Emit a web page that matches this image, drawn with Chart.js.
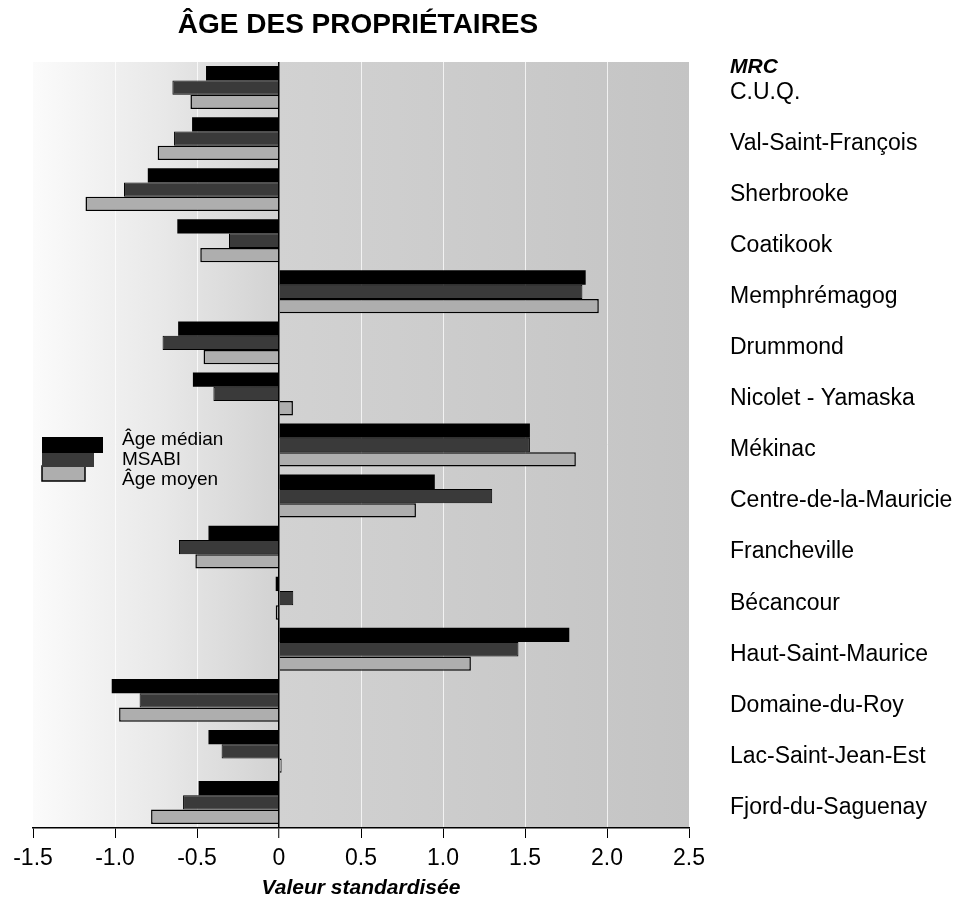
<!DOCTYPE html>
<html>
<head>
<meta charset="utf-8">
<script src="https://cdn.jsdelivr.net/npm/chart.js@4/dist/chart.umd.min.js"></script>
<style>
  html, body { margin: 0; padding: 0; background: #fff; }
  #wrap { width: 970px; height: 905px; }
</style>
</head>
<body>
<div id="wrap"><canvas id="ageChart" width="970" height="905"></canvas></div>
<script>
const mrcLabels = [
    "C.U.Q.", "Val-Saint-François", "Sherbrooke", "Coatikook", "Memphrémagog",
    "Drummond", "Nicolet - Yamaska", "Mékinac", "Centre-de-la-Mauricie", "Francheville",
    "Bécancour", "Haut-Saint-Maurice", "Domaine-du-Roy", "Lac-Saint-Jean-Est", "Fjord-du-Saguenay"
];
const ageMedian = [-0.445, -0.53, -0.80, -0.62, 1.87, -0.615, -0.525, 1.53, 0.95, -0.43, -0.02, 1.77, -1.02, -0.43, -0.49];
const msabi = [-0.65, -0.64, -0.945, -0.305, 1.85, -0.71, -0.40, 1.53, 1.30, -0.61, 0.087, 1.46, -0.85, -0.35, -0.585];
const ageMoyen = [-0.54, -0.74, -1.18, -0.48, 1.95, -0.46, 0.085, 1.81, 0.835, -0.51, -0.02, 1.17, -0.975, 0.016, -0.78];
const xTicks = ["-1.5", "-1.0", "-0.5", "0", "0.5", "1.0", "1.5", "2.0", "2.5"];

const FONT = "'Liberation Sans', Arial, Helvetica, sans-serif";
const colors = { median: "#000000", msabi: "#3a3a3a", moyen: "#aeaeae" };

// shaded plot background, white on the left fading to grey
const backdrop = {
    id: "backdrop",
    beforeDraw(chart) {
        const { ctx, chartArea: a } = chart;
        const g = ctx.createLinearGradient(a.left, 0, a.right, 0);
        g.addColorStop(0, "#fbfbfb");
        g.addColorStop(0.2, "#e8e8e8");
        g.addColorStop(0.375, "#d2d2d2");
        g.addColorStop(1, "#c4c4c4");
        ctx.save();
        ctx.fillStyle = g;
        ctx.fillRect(a.left, a.top, a.right - a.left, a.bottom - a.top);
        ctx.restore();
    }
};

// title, "MRC" header and the stepped legend
const extras = {
    id: "extras",
    afterDraw(chart) {
        const { ctx } = chart;
        ctx.save();
        ctx.fillStyle = "#000";
        ctx.textBaseline = "middle";
        ctx.textAlign = "center";
        ctx.font = "bold 28px " + FONT;
        ctx.fillText("ÂGE DES PROPRIÉTAIRES", 358, 25);

        ctx.textAlign = "left";
        ctx.font = "italic bold 21px " + FONT;
        ctx.fillText("MRC", 730, 67);

        // legend boxes
        ctx.strokeStyle = "#000";
        ctx.lineWidth = 1.5;
        ctx.fillStyle = colors.moyen;
        ctx.fillRect(42, 466, 43, 15);
        ctx.strokeRect(42, 466, 43, 15);
        ctx.fillStyle = colors.msabi;
        ctx.fillRect(42, 452, 52, 15);
        ctx.fillStyle = colors.median;
        ctx.fillRect(42, 437, 61, 16);

        ctx.fillStyle = "#000";
        ctx.font = "19px " + FONT;
        ctx.fillText("Âge médian", 122, 440);
        ctx.fillText("MSABI", 122, 460);
        ctx.fillText("Âge moyen", 122, 480);
        ctx.restore();
    }
};

new Chart(document.getElementById("ageChart"), {
    type: "bar",
    data: {
        labels: mrcLabels,
        datasets: [
            {
                label: "Âge médian",
                data: ageMedian,
                backgroundColor: colors.median,
                borderWidth: 0,
            },
            {
                label: "MSABI",
                data: msabi,
                backgroundColor: colors.msabi,
                borderColor: "#000",
                borderWidth: 1,
            },
            {
                label: "Âge moyen",
                data: ageMoyen,
                backgroundColor: colors.moyen,
                borderColor: "#000",
                borderWidth: 1.5,
            },
        ],
    },
    options: {
        indexAxis: "y",
        responsive: false,
        animation: false,
        layout: { padding: { top: 62, left: 33, right: 0, bottom: 0 } },
        datasets: {
            bar: { categoryPercentage: 0.84, barPercentage: 1.0 },
        },
        plugins: {
            legend: { display: false },
            tooltip: { enabled: false },
        },
        scales: {
            x: {
                min: -1.5,
                max: 2.5,
                ticks: {
                    stepSize: 0.5,
                    color: "#000",
                    font: { family: FONT, size: 23 },
                    padding: 7,
                    callback: (v, i) => xTicks[i],
                },
                grid: {
                    color: (c) => {
                        const v = c.tick ? c.tick.value : null;
                        if (v === 0) return "#000";
                        if (v === -1.5 || v === 2.5) return "rgba(0,0,0,0)";
                        return "rgba(255,255,255,0.75)";
                    },
                    lineWidth: (c) => (c.tick && c.tick.value === 0 ? 1.5 : 1),
                    tickColor: "#000",
                    tickLength: 10,
                    tickWidth: 1,
                },
                border: { display: true, color: "#000", width: 1.5 },
                title: {
                    display: true,
                    text: "Valeur standardisée",
                    color: "#000",
                    font: { family: FONT, size: 21, style: "italic", weight: "bold" },
                    padding: { top: 2 },
                },
                afterFit: (scale) => { scale.height = 77; },
            },
            y: {
                position: "right",
                grid: { display: false },
                border: { display: false },
                ticks: {
                    color: "#000",
                    font: { family: FONT, size: 23 },
                    padding: 33,
                    crossAlign: "near",
                    labelOffset: 5,
                },
                afterFit: (scale) => { scale.width = 281; },
            },
        },
    },
    plugins: [backdrop, extras],
});
</script>
</body>
</html>
